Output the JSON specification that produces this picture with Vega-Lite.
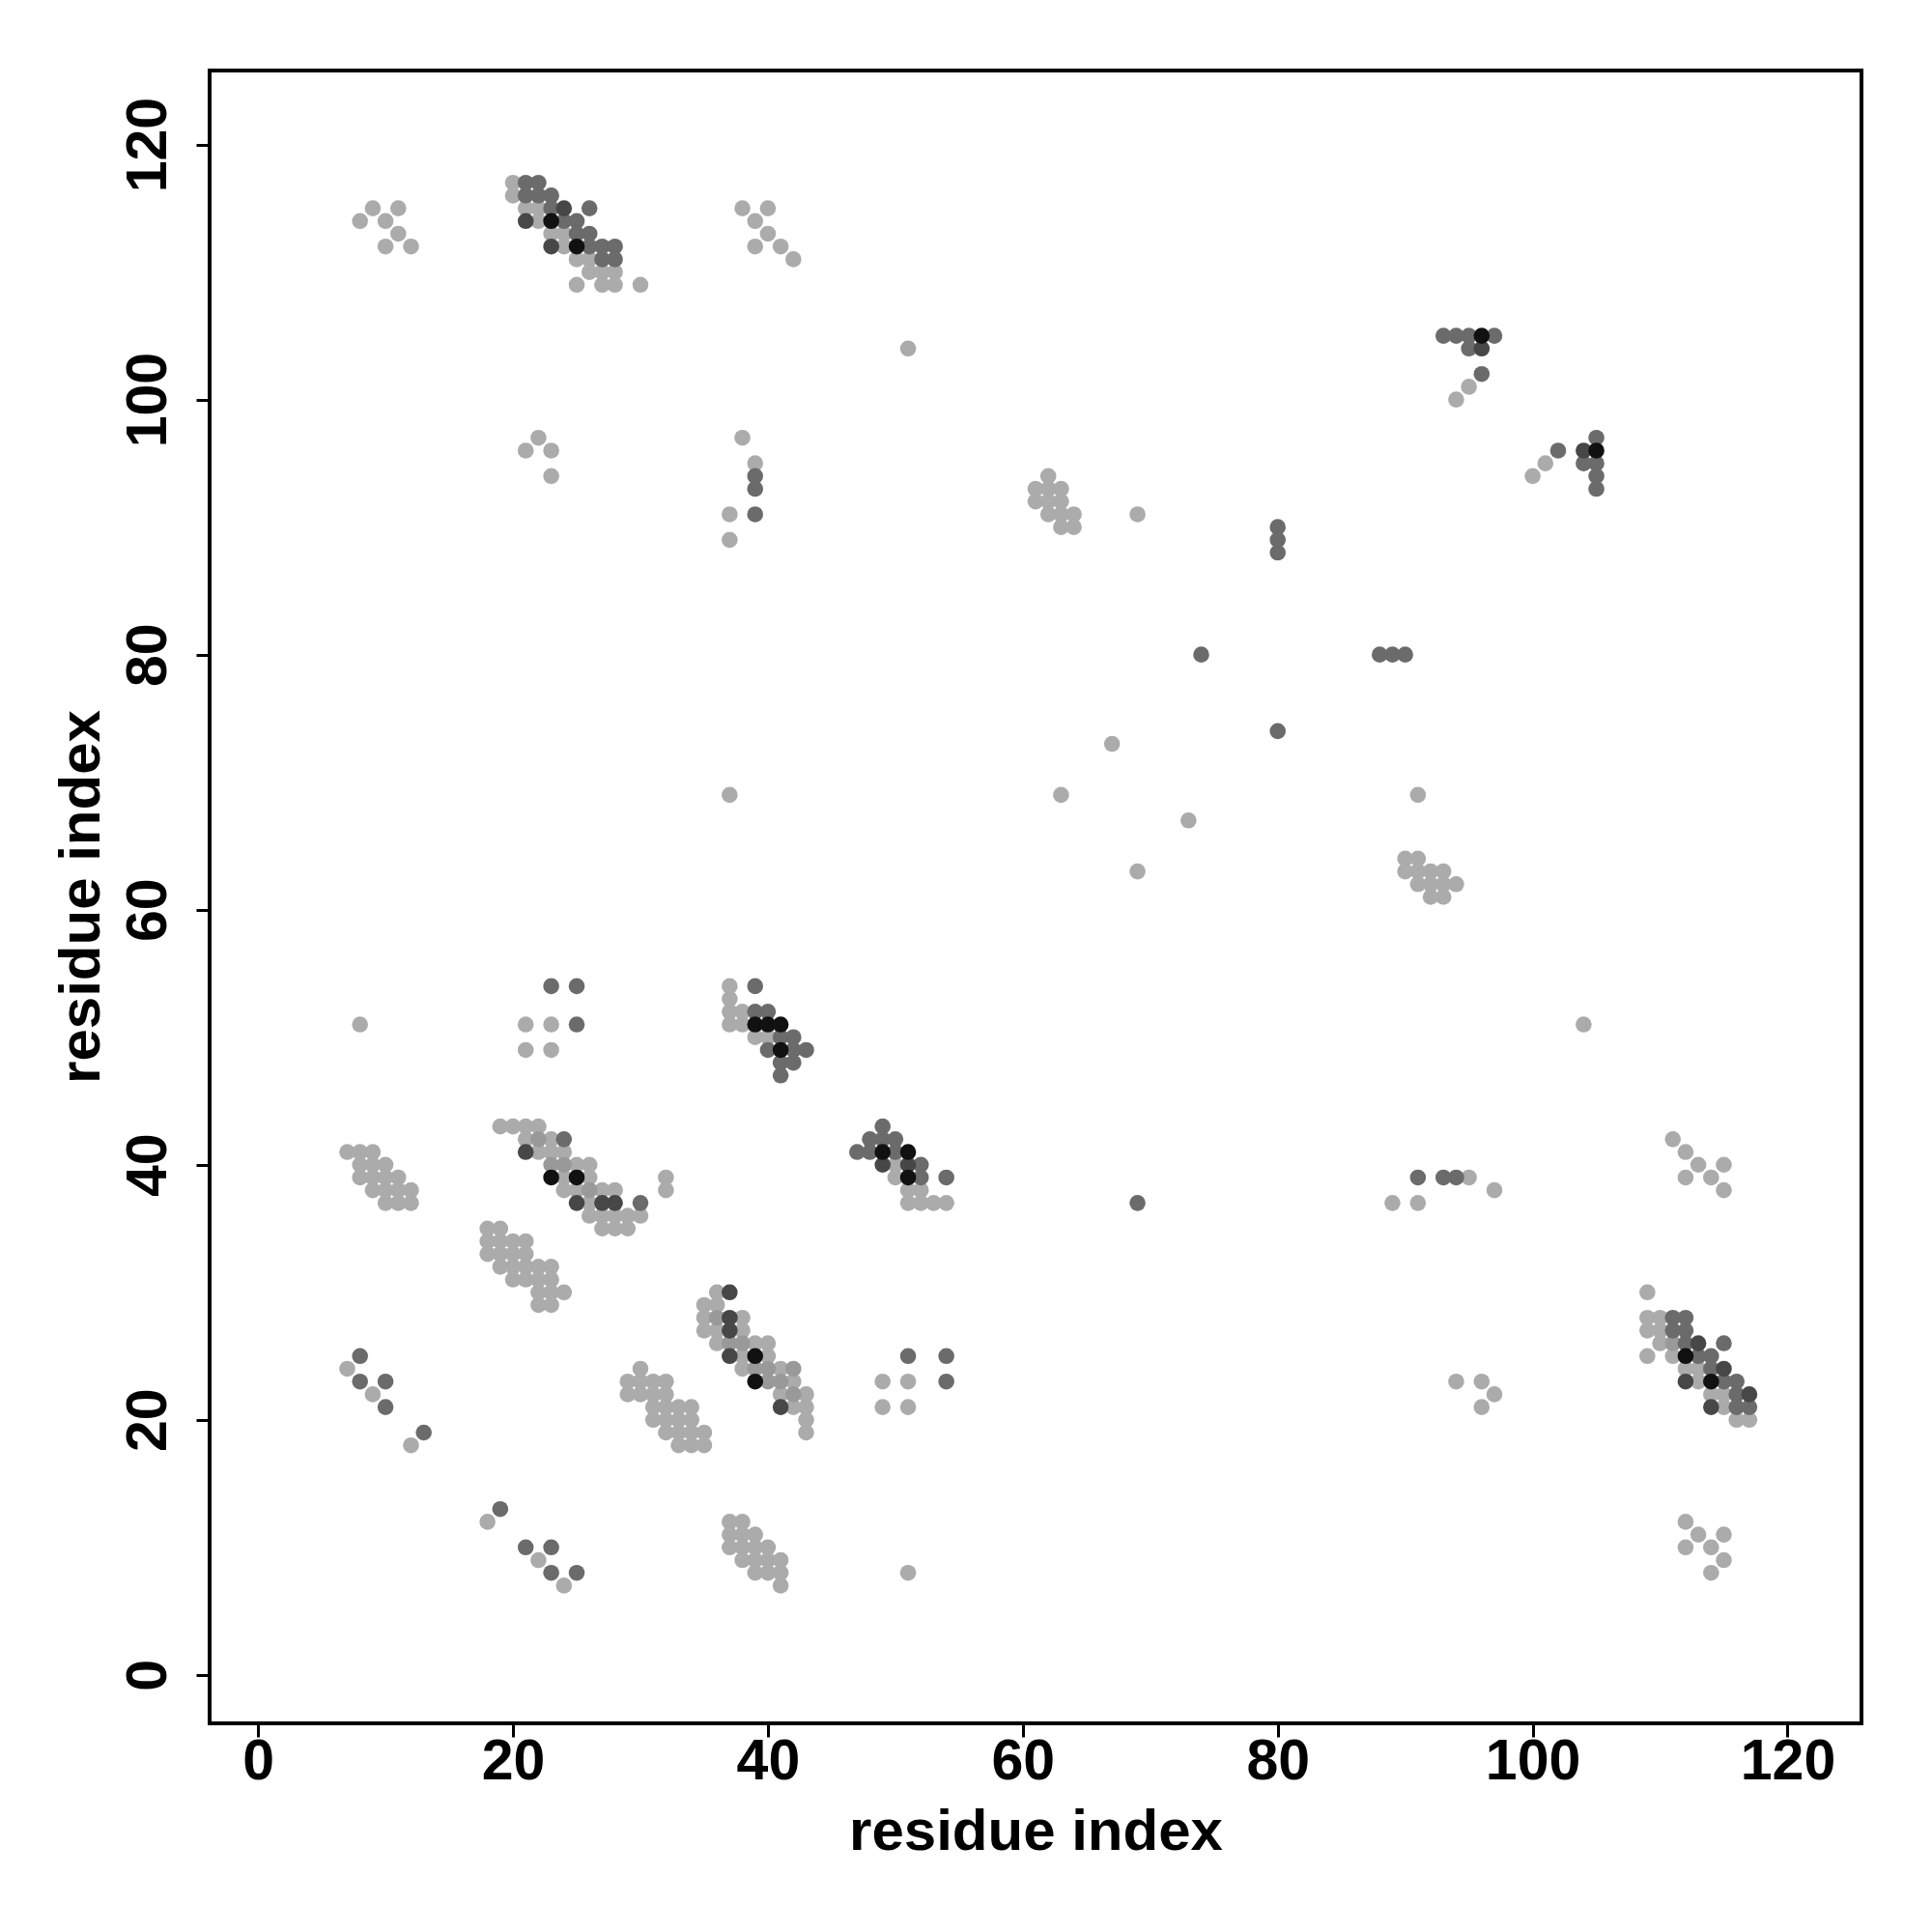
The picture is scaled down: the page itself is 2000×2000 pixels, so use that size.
{
"$schema": "https://vega.github.io/schema/vega-lite/v6.json",
"width": 1710, "height": 1711,
"autosize": {"type": "none"},
"padding": {"left": 217, "top": 73, "right": 73, "bottom": 216},
"background": "white",
"config": {"view": {"stroke": "black", "strokeWidth": 4}, "font": "Liberation Sans"},
"data": {"values": [
{"x":8,"y":114,"g":1},{"x":9,"y":115,"g":1},{"x":11,"y":115,"g":1},{"x":10,"y":114,"g":1},{"x":11,"y":113,"g":1},{"x":10,"y":112,"g":1},{"x":12,"y":112,"g":1},
{"x":20,"y":117,"g":1},{"x":20,"y":116,"g":1},{"x":21,"y":115,"g":1},{"x":22,"y":115,"g":1},{"x":22,"y":114,"g":1},{"x":23,"y":113,"g":1},{"x":24,"y":113,"g":1},{"x":24,"y":112,"g":1},{"x":25,"y":111,"g":1},{"x":26,"y":111,"g":1},{"x":26,"y":110,"g":1},{"x":27,"y":110,"g":1},{"x":28,"y":110,"g":1},{"x":25,"y":109,"g":1},{"x":27,"y":109,"g":1},{"x":28,"y":109,"g":1},{"x":30,"y":109,"g":1},
{"x":38,"y":115,"g":1},{"x":40,"y":115,"g":1},{"x":39,"y":114,"g":1},{"x":40,"y":113,"g":1},{"x":39,"y":112,"g":1},{"x":41,"y":112,"g":1},{"x":42,"y":111,"g":1},
{"x":95,"y":101,"g":1},{"x":94,"y":100,"g":1},{"x":101,"y":95,"g":1},{"x":100,"y":94,"g":1},
{"x":22,"y":97,"g":1},{"x":21,"y":96,"g":1},{"x":23,"y":96,"g":1},{"x":23,"y":94,"g":1},{"x":38,"y":97,"g":1},{"x":39,"y":95,"g":1},{"x":37,"y":91,"g":1},{"x":37,"y":89,"g":1},
{"x":51,"y":104,"g":1},{"x":69,"y":91,"g":1},{"x":62,"y":94,"g":1},{"x":61,"y":93,"g":1},{"x":62,"y":93,"g":1},{"x":63,"y":93,"g":1},{"x":61,"y":92,"g":1},{"x":62,"y":92,"g":1},{"x":63,"y":92,"g":1},{"x":62,"y":91,"g":1},{"x":63,"y":91,"g":1},{"x":64,"y":91,"g":1},{"x":63,"y":90,"g":1},{"x":64,"y":90,"g":1},
{"x":90,"y":64,"g":1},{"x":91,"y":64,"g":1},{"x":90,"y":63,"g":1},{"x":91,"y":63,"g":1},{"x":92,"y":63,"g":1},{"x":93,"y":63,"g":1},{"x":91,"y":62,"g":1},{"x":92,"y":62,"g":1},{"x":93,"y":62,"g":1},{"x":94,"y":62,"g":1},{"x":92,"y":61,"g":1},{"x":93,"y":61,"g":1},
{"x":67,"y":73,"g":1},{"x":63,"y":69,"g":1},{"x":91,"y":69,"g":1},{"x":73,"y":67,"g":1},{"x":69,"y":63,"g":1},{"x":104,"y":51,"g":1},{"x":37,"y":69,"g":1},
{"x":8,"y":51,"g":1},{"x":21,"y":51,"g":1},{"x":23,"y":51,"g":1},{"x":21,"y":49,"g":1},{"x":23,"y":49,"g":1},{"x":37,"y":54,"g":1},{"x":37,"y":53,"g":1},{"x":37,"y":52,"g":1},{"x":38,"y":52,"g":1},{"x":37,"y":51,"g":1},{"x":38,"y":51,"g":1},{"x":39,"y":50,"g":1},{"x":40,"y":50,"g":1},
{"x":7,"y":41,"g":1},{"x":8,"y":41,"g":1},{"x":9,"y":41,"g":1},{"x":8,"y":40,"g":1},{"x":9,"y":40,"g":1},{"x":10,"y":40,"g":1},{"x":8,"y":39,"g":1},{"x":9,"y":39,"g":1},{"x":10,"y":39,"g":1},{"x":11,"y":39,"g":1},{"x":9,"y":38,"g":1},{"x":10,"y":38,"g":1},{"x":11,"y":38,"g":1},{"x":12,"y":38,"g":1},{"x":10,"y":37,"g":1},{"x":11,"y":37,"g":1},{"x":12,"y":37,"g":1},
{"x":19,"y":43,"g":1},{"x":20,"y":43,"g":1},{"x":21,"y":43,"g":1},{"x":22,"y":43,"g":1},{"x":21,"y":42,"g":1},{"x":23,"y":42,"g":1},{"x":22,"y":41,"g":1},{"x":23,"y":41,"g":1},{"x":24,"y":41,"g":1},{"x":25,"y":40,"g":1},{"x":26,"y":40,"g":1},{"x":24,"y":39,"g":1},{"x":26,"y":39,"g":1},{"x":24,"y":38,"g":1},{"x":25,"y":38,"g":1},{"x":27,"y":38,"g":1},{"x":28,"y":38,"g":1},{"x":26,"y":37,"g":1},{"x":26,"y":36,"g":1},{"x":27,"y":36,"g":1},{"x":28,"y":36,"g":1},{"x":29,"y":36,"g":1},{"x":30,"y":36,"g":1},{"x":27,"y":35,"g":1},{"x":28,"y":35,"g":1},{"x":29,"y":35,"g":1},{"x":32,"y":39,"g":1},{"x":32,"y":38,"g":1},
{"x":18,"y":35,"g":1},{"x":19,"y":35,"g":1},{"x":18,"y":34,"g":1},{"x":19,"y":34,"g":1},{"x":20,"y":34,"g":1},{"x":21,"y":34,"g":1},{"x":18,"y":33,"g":1},{"x":19,"y":33,"g":1},{"x":20,"y":33,"g":1},{"x":21,"y":33,"g":1},{"x":19,"y":32,"g":1},{"x":20,"y":32,"g":1},{"x":21,"y":32,"g":1},{"x":22,"y":32,"g":1},{"x":23,"y":32,"g":1},{"x":20,"y":31,"g":1},{"x":21,"y":31,"g":1},{"x":22,"y":31,"g":1},{"x":23,"y":31,"g":1},{"x":22,"y":30,"g":1},{"x":23,"y":30,"g":1},{"x":24,"y":30,"g":1},{"x":22,"y":29,"g":1},{"x":23,"y":29,"g":1},
{"x":50,"y":40,"g":1},{"x":50,"y":39,"g":1},{"x":51,"y":38,"g":1},{"x":52,"y":38,"g":1},{"x":51,"y":37,"g":1},{"x":52,"y":37,"g":1},{"x":53,"y":37,"g":1},{"x":54,"y":37,"g":1},
{"x":95,"y":39,"g":1},{"x":97,"y":38,"g":1},{"x":89,"y":37,"g":1},{"x":91,"y":37,"g":1},{"x":111,"y":42,"g":1},{"x":112,"y":41,"g":1},{"x":113,"y":40,"g":1},{"x":115,"y":40,"g":1},{"x":112,"y":39,"g":1},{"x":114,"y":39,"g":1},{"x":115,"y":38,"g":1},
{"x":7,"y":24,"g":1},{"x":9,"y":22,"g":1},{"x":12,"y":18,"g":1},
{"x":30,"y":24,"g":1},{"x":29,"y":23,"g":1},{"x":30,"y":23,"g":1},{"x":31,"y":23,"g":1},{"x":32,"y":23,"g":1},{"x":29,"y":22,"g":1},{"x":30,"y":22,"g":1},{"x":31,"y":22,"g":1},{"x":32,"y":22,"g":1},{"x":31,"y":21,"g":1},{"x":32,"y":21,"g":1},{"x":33,"y":21,"g":1},{"x":34,"y":21,"g":1},{"x":31,"y":20,"g":1},{"x":32,"y":20,"g":1},{"x":33,"y":20,"g":1},{"x":34,"y":20,"g":1},{"x":32,"y":19,"g":1},{"x":33,"y":19,"g":1},{"x":34,"y":19,"g":1},{"x":35,"y":19,"g":1},{"x":33,"y":18,"g":1},{"x":34,"y":18,"g":1},{"x":35,"y":18,"g":1},
{"x":35,"y":29,"g":1},{"x":36,"y":29,"g":1},{"x":36,"y":30,"g":1},{"x":35,"y":28,"g":1},{"x":38,"y":28,"g":1},{"x":35,"y":27,"g":1},{"x":36,"y":27,"g":1},{"x":38,"y":27,"g":1},{"x":36,"y":26,"g":1},{"x":39,"y":26,"g":1},{"x":40,"y":26,"g":1},{"x":38,"y":25,"g":1},{"x":40,"y":25,"g":1},{"x":38,"y":24,"g":1},{"x":41,"y":24,"g":1},{"x":42,"y":23,"g":1},{"x":41,"y":22,"g":1},{"x":43,"y":22,"g":1},{"x":42,"y":21,"g":1},{"x":43,"y":21,"g":1},{"x":43,"y":20,"g":1},{"x":43,"y":19,"g":1},
{"x":94,"y":23,"g":1},{"x":96,"y":23,"g":1},{"x":97,"y":22,"g":1},{"x":96,"y":21,"g":1},
{"x":109,"y":30,"g":1},{"x":109,"y":28,"g":1},{"x":110,"y":28,"g":1},{"x":109,"y":27,"g":1},{"x":110,"y":27,"g":1},{"x":110,"y":26,"g":1},{"x":109,"y":25,"g":1},{"x":111,"y":25,"g":1},{"x":112,"y":24,"g":1},{"x":113,"y":24,"g":1},{"x":113,"y":23,"g":1},{"x":114,"y":22,"g":1},{"x":115,"y":22,"g":1},{"x":115,"y":21,"g":1},{"x":116,"y":20,"g":1},{"x":117,"y":20,"g":1},
{"x":18,"y":12,"g":1},{"x":22,"y":9,"g":1},{"x":24,"y":7,"g":1},
{"x":37,"y":12,"g":1},{"x":38,"y":12,"g":1},{"x":37,"y":11,"g":1},{"x":38,"y":11,"g":1},{"x":39,"y":11,"g":1},{"x":37,"y":10,"g":1},{"x":38,"y":10,"g":1},{"x":39,"y":10,"g":1},{"x":40,"y":10,"g":1},{"x":38,"y":9,"g":1},{"x":39,"y":9,"g":1},{"x":40,"y":9,"g":1},{"x":41,"y":9,"g":1},{"x":39,"y":8,"g":1},{"x":40,"y":8,"g":1},{"x":41,"y":8,"g":1},{"x":41,"y":7,"g":1},
{"x":51,"y":8,"g":1},{"x":112,"y":12,"g":1},{"x":113,"y":11,"g":1},{"x":115,"y":11,"g":1},{"x":112,"y":10,"g":1},{"x":114,"y":10,"g":1},{"x":115,"y":9,"g":1},{"x":114,"y":8,"g":1},{"x":49,"y":23,"g":1},{"x":49,"y":21,"g":1},{"x":51,"y":23,"g":1},{"x":51,"y":21,"g":1},
{"x":22,"y":42,"g":2},{"x":23,"y":40,"g":2},{"x":24,"y":40,"g":2},{"x":26,"y":38,"g":2},{"x":36,"y":28,"g":2},{"x":37,"y":26,"g":2},{"x":38,"y":26,"g":2},{"x":39,"y":24,"g":2},{"x":40,"y":24,"g":2},{"x":40,"y":23,"g":2},{"x":41,"y":23,"g":2},{"x":42,"y":24,"g":2},{"x":42,"y":22,"g":2},{"x":111,"y":26,"g":2},
{"x":21,"y":117,"g":3},{"x":22,"y":117,"g":3},{"x":21,"y":116,"g":3},{"x":22,"y":116,"g":3},{"x":23,"y":116,"g":3},{"x":23,"y":115,"g":3},{"x":26,"y":115,"g":3},{"x":24,"y":114,"g":3},{"x":25,"y":114,"g":3},{"x":25,"y":113,"g":3},{"x":26,"y":113,"g":3},{"x":26,"y":112,"g":3},{"x":27,"y":112,"g":3},{"x":28,"y":112,"g":3},{"x":27,"y":111,"g":3},{"x":28,"y":111,"g":3},
{"x":93,"y":105,"g":3},{"x":94,"y":105,"g":3},{"x":95,"y":105,"g":3},{"x":97,"y":105,"g":3},{"x":95,"y":104,"g":3},{"x":96,"y":102,"g":3},{"x":105,"y":97,"g":3},{"x":102,"y":96,"g":3},{"x":104,"y":95,"g":3},{"x":105,"y":95,"g":3},{"x":105,"y":94,"g":3},{"x":105,"y":93,"g":3},
{"x":39,"y":94,"g":3},{"x":39,"y":93,"g":3},{"x":39,"y":91,"g":3},
{"x":74,"y":80,"g":3},{"x":88,"y":80,"g":3},{"x":89,"y":80,"g":3},{"x":90,"y":80,"g":3},{"x":80,"y":90,"g":3},{"x":80,"y":89,"g":3},{"x":80,"y":88,"g":3},{"x":80,"y":74,"g":3},{"x":69,"y":37,"g":3},
{"x":23,"y":54,"g":3},{"x":25,"y":54,"g":3},{"x":25,"y":51,"g":3},{"x":39,"y":54,"g":3},{"x":39,"y":52,"g":3},{"x":40,"y":52,"g":3},{"x":41,"y":50,"g":3},{"x":42,"y":50,"g":3},{"x":40,"y":49,"g":3},{"x":42,"y":49,"g":3},{"x":43,"y":49,"g":3},{"x":41,"y":48,"g":3},{"x":42,"y":48,"g":3},{"x":41,"y":47,"g":3},
{"x":24,"y":42,"g":3},{"x":30,"y":37,"g":3},
{"x":49,"y":43,"g":3},{"x":48,"y":42,"g":3},{"x":49,"y":42,"g":3},{"x":50,"y":42,"g":3},{"x":47,"y":41,"g":3},{"x":48,"y":41,"g":3},{"x":50,"y":41,"g":3},{"x":52,"y":40,"g":3},{"x":52,"y":39,"g":3},{"x":54,"y":39,"g":3},
{"x":91,"y":39,"g":3},{"x":93,"y":39,"g":3},{"x":94,"y":39,"g":3},
{"x":8,"y":25,"g":3},{"x":8,"y":23,"g":3},{"x":10,"y":23,"g":3},{"x":10,"y":21,"g":3},{"x":13,"y":19,"g":3},
{"x":111,"y":28,"g":3},{"x":112,"y":28,"g":3},{"x":111,"y":27,"g":3},{"x":112,"y":27,"g":3},{"x":112,"y":26,"g":3},{"x":115,"y":26,"g":3},{"x":113,"y":25,"g":3},{"x":114,"y":25,"g":3},{"x":114,"y":24,"g":3},{"x":115,"y":23,"g":3},{"x":116,"y":23,"g":3},{"x":116,"y":22,"g":3},{"x":116,"y":21,"g":3},{"x":117,"y":21,"g":3},
{"x":19,"y":13,"g":3},{"x":21,"y":10,"g":3},{"x":23,"y":10,"g":3},{"x":23,"y":8,"g":3},{"x":25,"y":8,"g":3},
{"x":51,"y":25,"g":3},{"x":54,"y":25,"g":3},{"x":54,"y":23,"g":3},
{"x":24,"y":115,"g":4},{"x":21,"y":114,"g":4},{"x":23,"y":112,"g":4},{"x":96,"y":104,"g":4},{"x":104,"y":96,"g":4},{"x":21,"y":41,"g":4},{"x":25,"y":37,"g":4},{"x":27,"y":37,"g":4},{"x":28,"y":37,"g":4},{"x":49,"y":40,"g":4},{"x":51,"y":40,"g":4},{"x":37,"y":30,"g":4},{"x":37,"y":28,"g":4},{"x":37,"y":27,"g":4},{"x":37,"y":25,"g":4},{"x":41,"y":21,"g":4},{"x":113,"y":26,"g":4},{"x":115,"y":24,"g":4},{"x":112,"y":23,"g":4},{"x":117,"y":22,"g":4},{"x":114,"y":21,"g":4},
{"x":23,"y":114,"g":5},{"x":25,"y":112,"g":5},{"x":96,"y":105,"g":5},{"x":105,"y":96,"g":5},{"x":39,"y":51,"g":5},{"x":40,"y":51,"g":5},{"x":41,"y":51,"g":5},{"x":41,"y":49,"g":5},{"x":23,"y":39,"g":5},{"x":25,"y":39,"g":5},{"x":49,"y":41,"g":5},{"x":51,"y":41,"g":5},{"x":51,"y":39,"g":5},{"x":39,"y":25,"g":5},{"x":39,"y":23,"g":5},{"x":112,"y":25,"g":5},{"x":114,"y":23,"g":5}
]},
"mark": {"type": "circle", "size": 275, "opacity": 1},
"encoding": {
  "x": {"field": "x", "type": "quantitative",
    "scale": {"domain": [-3.8, 125.8], "nice": false, "zero": false},
    "axis": {"title": "residue index", "values": [0,20,40,60,80,100,120], "grid": false, "domain": false,
      "tickSize": 14, "tickWidth": 3, "tickColor": "black",
      "labelFont": "Liberation Sans", "labelFontSize": 59, "labelFontWeight": "bold", "labelColor": "black", "labelPadding": -4,
      "labelFlush": false, "labelOverlap": false,
      "titleFont": "Liberation Sans", "titleFontSize": 60, "titleFontWeight": "bold", "titleColor": "black",
      "titleBaseline": "alphabetic", "titleX": 855, "titleY": 130}},
  "y": {"field": "y", "type": "quantitative",
    "scale": {"domain": [-3.8, 125.8], "nice": false, "zero": false},
    "axis": {"title": "residue index", "values": [0,20,40,60,80,100,120], "grid": false, "domain": false,
      "tickSize": 14, "tickWidth": 3, "tickColor": "black",
      "labelFont": "Liberation Sans", "labelFontSize": 59, "labelFontWeight": "bold", "labelColor": "black",
      "labelAngle": 270, "labelAlign": "center", "labelBaseline": "alphabetic", "labelPadding": 32,
      "labelFlush": false, "labelOverlap": false,
      "titleFont": "Liberation Sans", "titleFontSize": 60, "titleFontWeight": "bold", "titleColor": "black",
      "titleAngle": 270, "titleBaseline": "alphabetic", "titleX": -115, "titleY": 855}},
  "color": {"field": "g", "type": "ordinal",
    "scale": {"domain": [1,2,3,4,5], "range": ["#ababab", "#999999", "#6b6b6b", "#474747", "#111111"]},
    "legend": null},
  "order": {"field": "g", "type": "quantitative"}
}
}
